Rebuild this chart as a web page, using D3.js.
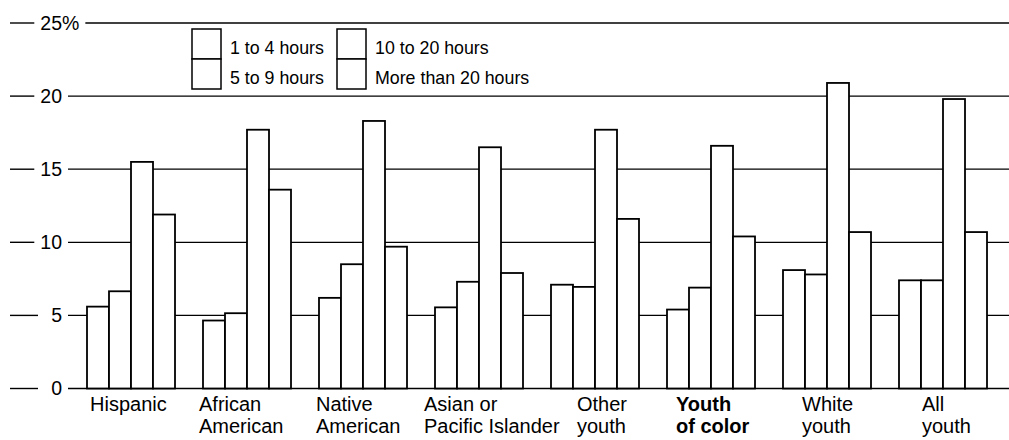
<!DOCTYPE html>
<html>
<head>
<meta charset="utf-8">
<script src="https://cdn.jsdelivr.net/npm/d3@7"></script>
<style>
  html, body { margin: 0; padding: 0; background: #fff; }
  svg { display: block; font-family: "Liberation Sans", Arial, Helvetica, sans-serif; }
</style>
</head>
<body>
<svg id="chart" width="1009" height="440"></svg>
<script>
// ---- data ----
const categories = [
  ["Hispanic"],
  ["African", "American"],
  ["Native", "American"],
  ["Asian or", "Pacific Islander"],
  ["Other", "youth"],
  ["Youth", "of color"],
  ["White", "youth"],
  ["All", "youth"]
];
const seriesNames = ["1 to 4 hours", "5 to 9 hours", "10 to 20 hours", "More than 20 hours"];
const hours1to4   = [5.6, 4.65, 6.2, 5.55, 7.1, 5.4, 8.1, 7.4];
const hours5to9   = [6.65, 5.15, 8.5, 7.3, 6.95, 6.9, 7.8, 7.4];
const hours10to20 = [15.5, 17.7, 18.3, 16.5, 17.7, 16.6, 20.9, 19.8];
const hoursOver20 = [11.9, 13.6, 9.7, 7.9, 11.6, 10.4, 10.7, 10.7];
const yTicks = [0, 5, 10, 15, 20, 25];
const boldCategory = "Youth";

// ---- layout ----
const labelDx = [3, -4, -3, -11, 26, 9, 19, 23];
const svg = d3.select("#chart");
const W = 1009;
const series = [hours1to4, hours5to9, hours10to20, hoursOver20];
const catKeys = categories.map(c => c.join(" "));

const x0 = d3.scaleBand().domain(catKeys).range([87, 987]).paddingInner(28 / 116).paddingOuter(0);
const x1 = d3.scaleBand().domain(d3.range(4)).range([0, x0.bandwidth()]).padding(0);
const y = d3.scaleLinear().domain([0, 25]).range([388.5, 23]);

// y ticks, dashes, gridlines
const tickG = svg.append("g");
yTicks.forEach(t => {
  const g = tickG.append("g");
  const yy = y(t);
  const num = g.append("text").attr("x", 62).attr("y", yy).attr("dy", "0.35em")
    .attr("text-anchor", "end").attr("font-size", 19.5).attr("fill", "#000").text(t);
  let right = 62;
  if (t === 25) {
    const pct = g.append("text").attr("x", 62).attr("y", yy).attr("dy", "0.35em")
      .attr("font-size", 19.5).attr("fill", "#000").text("%");
    right = 62 + pct.node().getComputedTextLength();
  }
  const left = 62 - num.node().getComputedTextLength();
  g.append("line").attr("x1", 10).attr("x2", Math.min(38, left - 6))
    .attr("y1", yy).attr("y2", yy).attr("stroke", "#000").attr("stroke-width", 1.4);
  g.append("line").attr("x1", right + 6).attr("x2", W)
    .attr("y1", yy).attr("y2", yy).attr("stroke", "#000").attr("stroke-width", t === 0 ? 1.6 : 1.3);
});

// bars
const groups = svg.append("g").selectAll("g").data(catKeys).join("g")
  .attr("transform", d => `translate(${x0(d)},0)`);
groups.selectAll("rect").data((d, i) => series.map((s, k) => ({k, v: s[i]}))).join("rect")
  .attr("x", d => x1(d.k)).attr("width", x1.bandwidth())
  .attr("y", d => y(d.v)).attr("height", d => y(0) - y(d.v))
  .attr("fill", "#fff").attr("stroke", "#000").attr("stroke-width", 1.8);

// x labels
categories.forEach((lines, i) => {
  const t = svg.append("text").attr("x", x0(catKeys[i]) + labelDx[i]).attr("y", 411)
    .attr("font-size", 20).attr("fill", "#000")
    .attr("font-weight", lines[0] === boldCategory ? "bold" : "normal");
  lines.forEach((l, j) => {
    t.append("tspan").attr("x", x0(catKeys[i]) + labelDx[i]).attr("dy", j === 0 ? 0 : 22).text(l);
  });
});

// legend (2 x 2)
const legendCols = [192, 337];
const legendRows = [29, 59];
seriesNames.forEach((name, k) => {
  const col = Math.floor(k / 2), row = k % 2;
  svg.append("rect").attr("x", legendCols[col]).attr("y", legendRows[row])
    .attr("width", 29).attr("height", 30)
    .attr("fill", "#fff").attr("stroke", "#000").attr("stroke-width", 1.5);
  svg.append("text").attr("x", legendCols[col] + 38).attr("y", legendRows[row] + 25)
    .attr("font-size", 17.8).attr("fill", "#000").text(name);
});
</script>
</body>
</html>
